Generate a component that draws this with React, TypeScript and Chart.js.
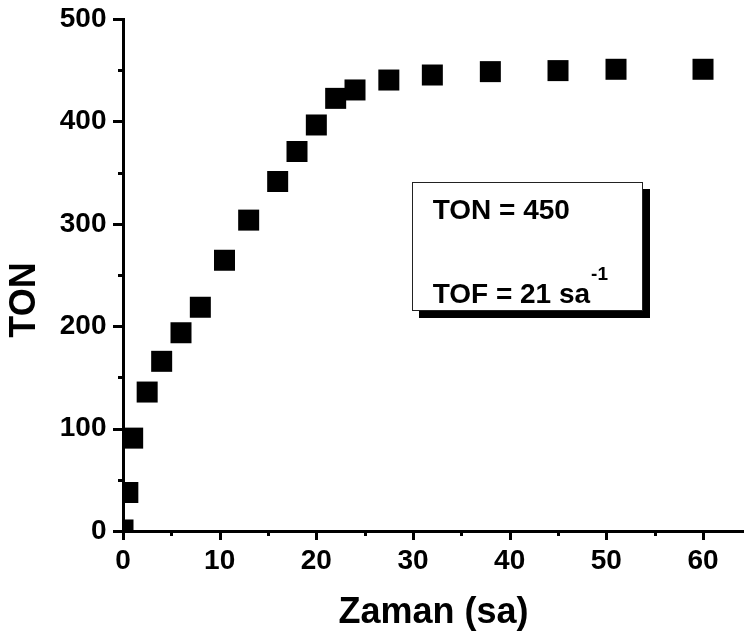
import React, { useEffect, useRef } from 'react';
import { Chart, registerables } from 'chart.js';

Chart.register(...registerables);

// ---- data ----
const timeHours = [0, 0.5, 1, 2.5, 4, 6, 8, 10.5, 13, 16, 18, 20, 22, 24, 27.5, 32, 38, 45, 51, 60];
const tonValues = [1, 37.6, 90.7, 135.7, 165.7, 193.6, 218.5, 264.4, 303.6, 341.3, 370.6, 396.5, 422.5, 430.7, 440.4, 445.3, 448.6, 449.6, 450.9, 450.9];

const xMajorTicks = [0, 10, 20, 30, 40, 50, 60];
const xMinorTicks = [5, 15, 25, 35, 45, 55];
const yMajorTicks = [0, 100, 200, 300, 400, 500];
const yMinorTicks = [50, 150, 250, 350, 450];

const xAxisTitle = 'Zaman (sa)';
const yAxisTitle = 'TON';
const noteLines = ['TON = 450', 'TOF = 21 sa'];
const noteSuperscript = '-1';

// note box extent in data units
const noteBoxX = [29.86, 53.76];
const noteBoxY = [340.5, 214.2];

const FONT = '"Liberation Sans", Arial, Helvetica, sans-serif';

const decorPlugin = {
  id: 'decor',
  afterDraw(chart: any) {
    const ctx = chart.ctx as CanvasRenderingContext2D;
    const xs = chart.scales.x;
    const ys = chart.scales.y;
    const area = chart.chartArea;
    ctx.save();
    // tick marks
    ctx.strokeStyle = '#000';
    ctx.lineWidth = 3;
    ctx.lineCap = 'butt';
    const yTick = (v: number, len: number) => {
      const y = Math.round(ys.getPixelForValue(v)) + 0.5;
      ctx.beginPath();
      ctx.moveTo(area.left - len, y);
      ctx.lineTo(area.left + 1, y);
      ctx.stroke();
    };
    const xTick = (v: number, len: number) => {
      const x = Math.round(xs.getPixelForValue(v)) + 0.5;
      ctx.beginPath();
      ctx.moveTo(x, area.bottom - 1);
      ctx.lineTo(x, area.bottom + len);
      ctx.stroke();
    };
    yMajorTicks.forEach((v) => yTick(v, 10));
    yMinorTicks.forEach((v) => yTick(v, 5));
    xMajorTicks.forEach((v) => xTick(v, 9));
    xMinorTicks.forEach((v) => xTick(v, 5));

    // note box with shadow
    const l = xs.getPixelForValue(noteBoxX[0]);
    const r = xs.getPixelForValue(noteBoxX[1]);
    const t = ys.getPixelForValue(noteBoxY[0]);
    const b = ys.getPixelForValue(noteBoxY[1]);
    const w = r - l;
    const h = b - t;
    ctx.fillStyle = '#000';
    ctx.fillRect(Math.round(l) + 7, Math.round(t) + 7, Math.round(w), Math.round(h));
    ctx.fillStyle = '#fff';
    ctx.fillRect(Math.round(l), Math.round(t), Math.round(w), Math.round(h));
    ctx.strokeStyle = '#222';
    ctx.lineWidth = 1;
    ctx.strokeRect(Math.round(l) + 0.5, Math.round(t) + 0.5, Math.round(w) - 1, Math.round(h) - 1);

    ctx.fillStyle = '#000';
    ctx.textAlign = 'left';
    ctx.textBaseline = 'alphabetic';
    ctx.font = `bold 28px ${FONT}`;
    const tx = l + 21;
    ctx.fillText(noteLines[0], tx, t + 36.4);
    ctx.fillText(noteLines[1], tx, t + 120.4);
    const tw = ctx.measureText(noteLines[1]).width;
    ctx.font = `bold 19px ${FONT}`;
    ctx.fillText(noteSuperscript, tx + tw + 1, t + 98);

    // y axis title
    ctx.save();
    ctx.translate(24.7, 300);
    ctx.rotate(-Math.PI / 2);
    ctx.font = `bold 36px ${FONT}`;
    ctx.textAlign = 'center';
    ctx.textBaseline = 'middle';
    ctx.fillText(yAxisTitle, 0, 0);
    ctx.restore();

    ctx.restore();
  },
};

export default function App() {
  const ref = useRef<HTMLCanvasElement | null>(null);
  useEffect(() => {
    if (!ref.current) return;
    const points = timeHours.map((x, i) => ({ x, y: tonValues[i] }));
    const chart = new Chart(ref.current, {
      type: 'scatter',
      data: {
        datasets: [
          {
            data: points,
            pointStyle: 'rect',
            pointRadius: 14.85,
            pointHoverRadius: 14.85,
            pointBorderWidth: 0,
            backgroundColor: '#000',
            borderColor: '#000',
            clip: 0,
          } as any,
        ],
      },
      options: {
        responsive: false,
        animation: false,
        devicePixelRatio: 1,
        layout: { autoPadding: false, padding: { top: 19, right: 0, bottom: 0, left: 0 } },
        plugins: { legend: { display: false }, tooltip: { enabled: false }, title: { display: false } },
        events: [],
        scales: {
          x: {
            type: 'linear',
            min: 0,
            max: 64.24,
            afterBuildTicks: (s: any) => {
              s.ticks = xMajorTicks.map((v) => ({ value: v }));
            },
            afterFit: (s: any) => {
              s.height = 108;
              s.paddingLeft = 0;
              s.paddingRight = 0;
            },
            grid: { display: false, drawTicks: false },
            border: { display: true, width: 3, color: '#000' },
            ticks: {
              padding: 13,
              color: '#000',
              maxRotation: 0,
              autoSkip: false,
              font: { family: FONT, size: 28, weight: 'bold' },
            },
            title: {
              display: true,
              text: xAxisTitle,
              color: '#000',
              font: { family: FONT, size: 36, weight: 'bold' },
              padding: { top: 0, bottom: 4 },
            },
          },
          y: {
            type: 'linear',
            min: 0,
            max: 500,
            afterBuildTicks: (s: any) => {
              s.ticks = yMajorTicks.map((v) => ({ value: v }));
            },
            afterFit: (s: any) => {
              s.width = 123;
              s.paddingTop = 0;
              s.paddingBottom = 0;
            },
            grid: { display: false, drawTicks: false },
            border: { display: true, width: 3, color: '#000' },
            ticks: {
              padding: 16.5,
              color: '#000',
              autoSkip: false,
              font: { family: FONT, size: 28, weight: 'bold' },
            },
            title: { display: false },
          },
        },
      },
      plugins: [decorPlugin],
    });
    return () => chart.destroy();
  }, []);
  return (
    <div style={{ position: 'fixed', left: 0, top: 0, width: 744, height: 639, background: '#fff' }}>
      <canvas ref={ref} width={744} height={639} style={{ display: 'block', width: 744, height: 639 }} />
    </div>
  );
}
